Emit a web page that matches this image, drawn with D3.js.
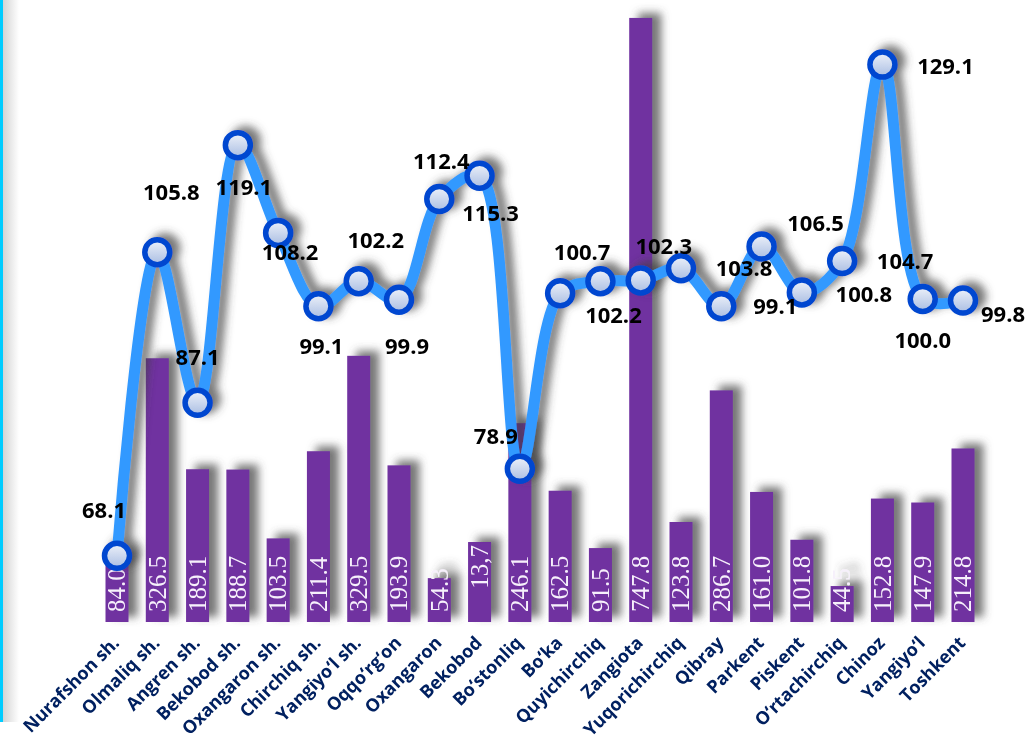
<!DOCTYPE html>
<html>
<head>
<meta charset="utf-8">
<script src="https://cdn.jsdelivr.net/npm/d3@7"></script>
<style>
  html, body { margin: 0; padding: 0; background: #ffffff; }
  svg { display: block; }
</style>
</head>
<body>
<script>
// ---------- data ----------
const categories = ["Nurafshon sh.", "Olmaliq sh.", "Angren sh.", "Bekobod sh.", "Oxangaron sh.",
  "Chirchiq sh.", "Yangiyo\u2018l sh.", "Oqqo\u2018rg\u2018on", "Oxangaron", "Bekobod", "Bo\u2018stonliq",
  "Bo\u2018ka", "Quyichirchiq", "Zangiota", "Yuqorichirchiq", "Qibray", "Parkent", "Piskent",
  "O\u2018rtachirchiq", "Chinoz", "Yangiyo\u2018l", "Toshkent"];

// bar heights
const barValues = [84.0, 326.5, 189.1, 188.7, 103.5, 211.4, 329.5, 193.9, 54.3, 99.0, 246.1,
  162.5, 91.5, 747.8, 123.8, 286.7, 161.0, 101.8, 44.5, 152.8, 147.9, 214.8];
// bar labels as printed in the picture
const barLabels = ["84.0", "326.5", "189.1", "188.7", "103.5", "211.4", "329.5", "193.9", "54.3", "13,7", "246.1",
  "162.5", "91.5", "747.8", "123.8", "286.7", "161.0", "101.8", "44.5", "152.8", "147.9", "214.8"];

const lineValues = [68.1, 105.8, 87.1, 119.1, 108.2, 99.1, 102.2, 99.9, 112.4, 115.3, 78.9,
  100.7, 102.2, 102.3, 103.8, 99.1, 106.5, 100.8, 104.7, 129.1, 100.0, 99.8];

// layout: label offsets (text centre relative to marker)
const lineLabelOffsets = [[-13,-46],[14,-60],[0,-46],[6,42],[12,19],[3,40],[17,-41],[8,46],[2,-38],[11,37],[-24,-33],
  [22,-41],[13,34],[23,-34],[63,0],[54,0],[54,-24],[62,2],[63,0],[63,1],[0,41],[40,14]];

// ---------- setup ----------
const W = 1030, H = 744;
const svg = d3.select("body").append("svg").attr("width", W).attr("height", H);
const defs = svg.append("defs");

const shadow = defs.append("filter").attr("id", "shadow")
  .attr("x", "-50%").attr("y", "-50%").attr("width", "200%").attr("height", "200%");
shadow.append("feDropShadow").attr("dx", 9).attr("dy", -5).attr("stdDeviation", 4)
  .attr("flood-color", "#4a4a4a").attr("flood-opacity", 0.75);

const lshadow = defs.append("filter").attr("id", "lshadow")
  .attr("x", "-50%").attr("y", "-50%").attr("width", "200%").attr("height", "200%");
lshadow.append("feDropShadow").attr("dx", 8).attr("dy", -4).attr("stdDeviation", 4)
  .attr("flood-color", "#404040").attr("flood-opacity", 0.7);

const mg = defs.append("linearGradient").attr("id", "markerFill")
  .attr("x1", 0).attr("y1", 0).attr("x2", 0).attr("y2", 1);
mg.append("stop").attr("offset", "0%").attr("stop-color", "#eef2fa");
mg.append("stop").attr("offset", "100%").attr("stop-color", "#a9bde2");

const edge = defs.append("linearGradient").attr("id", "edgeShade")
  .attr("x1", 0).attr("y1", 0).attr("x2", 1).attr("y2", 0);
edge.append("stop").attr("offset", "0%").attr("stop-color", "#d4d4d4");
edge.append("stop").attr("offset", "100%").attr("stop-color", "#ffffff");

// left cyan border with shading
svg.append("rect").attr("x", 3).attr("y", 0).attr("width", 16).attr("height", 722).attr("fill", "url(#edgeShade)");
svg.append("rect").attr("x", 0).attr("y", 0).attr("width", 3).attr("height", 722).attr("fill", "#00ccff");

// ---------- scales ----------
const x = d3.scalePoint().domain(categories).range([117, 963]);
const yBar = d3.scaleLinear().domain([0, 770]).range([622, 0]);
const yLine = d3.scaleLinear().domain([60, 137]).range([621, 1]);
const barW = 23;

// ---------- bars ----------
const barG = svg.append("g").attr("filter", "url(#shadow)");
const bars = barG.selectAll("g.bar").data(categories).join("g").attr("class", "bar");
bars.append("rect")
  .attr("x", d => x(d) - barW / 2)
  .attr("y", (d, i) => yBar(barValues[i]))
  .attr("width", barW)
  .attr("height", (d, i) => yBar(0) - yBar(barValues[i]))
  .attr("fill", "#7030a0");
bars.append("text")
  .attr("transform", (d, i) => {
    const bx = x(d) + 25 * 0.33;
    if (barLabels[i].includes(",")) return `translate(${bx},${yBar(barValues[i]) + 3}) rotate(-90)`;
    return `translate(${bx},${yBar(0) - 10}) rotate(-90)`;
  })
  .attr("text-anchor", (d, i) => barLabels[i].includes(",") ? "end" : "start")
  .attr("font-family", "'Liberation Serif', 'Times New Roman', serif")
  .attr("font-size", 25)
  .attr("fill", "#f6f0fb")
  .text((d, i) => barLabels[i]);

// ---------- category axis ----------
const axisG = svg.append("g").attr("transform", `translate(0,${yBar(0)})`)
  .call(d3.axisBottom(x).tickSize(0));
axisG.select(".domain").remove();
axisG.selectAll("text")
  .attr("x", 0).attr("y", 0).attr("dy", 0)
  .attr("transform", "translate(3,22) rotate(-45)")
  .attr("text-anchor", "end")
  .attr("font-family", "'Open Sans', sans-serif")
  .attr("font-weight", "bold")
  .attr("font-size", 18)
  .attr("fill", "#002060");

// ---------- line ----------
const lineG = svg.append("g").attr("filter", "url(#lshadow)");
const line = d3.line()
  .x((d, i) => x(categories[i]))
  .y(d => yLine(d))
  .curve(d3.curveCatmullRom.alpha(0.5));
lineG.append("path").datum(lineValues)
  .attr("d", line)
  .attr("fill", "none")
  .attr("stroke", "#3399ff")
  .attr("stroke-width", 11)
  .attr("stroke-linejoin", "round");
lineG.selectAll("circle").data(lineValues).join("circle")
  .attr("cx", (d, i) => x(categories[i]))
  .attr("cy", d => yLine(d))
  .attr("r", 12.5)
  .attr("fill", "url(#markerFill)")
  .attr("stroke", "#0047d0")
  .attr("stroke-width", 5.5);

// ---------- line labels ----------
svg.append("g").selectAll("text").data(lineValues).join("text")
  .attr("x", (d, i) => x(categories[i]) + lineLabelOffsets[i][0])
  .attr("y", (d, i) => yLine(d) + lineLabelOffsets[i][1])
  .attr("dy", "0.36em")
  .attr("text-anchor", "middle")
  .attr("font-family", "'Open Sans', sans-serif")
  .attr("font-weight", "bold")
  .attr("font-size", 22)
  .attr("fill", "#000000")
  .text(d => d.toFixed(1));
</script>
</body>
</html>
